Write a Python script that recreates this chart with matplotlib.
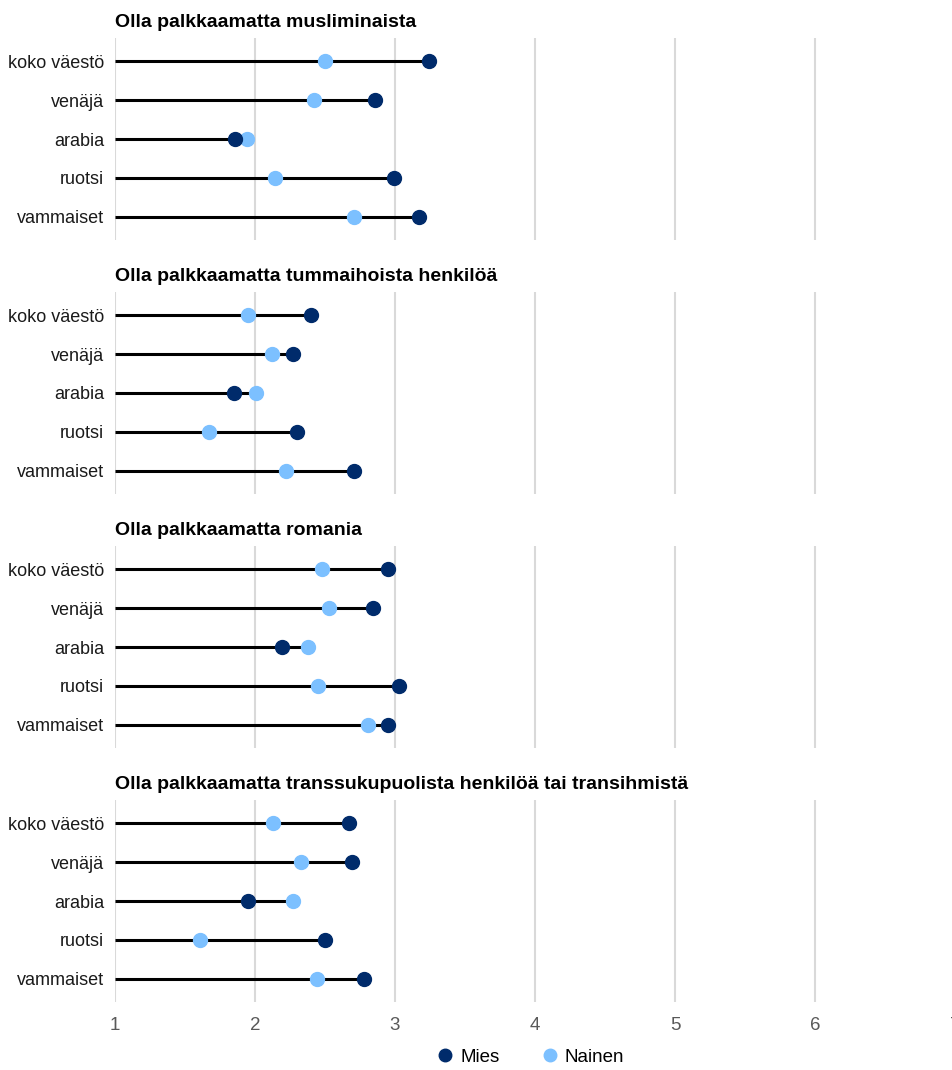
import matplotlib
matplotlib.use("Agg")
import matplotlib.pyplot as plt
from matplotlib.lines import Line2D

plt.rcParams['font.family'] = ['Liberation Sans Narrow', 'Liberation Sans', 'DejaVu Sans']

DARK = "#002B6B"
LIGHT = "#7CC0FF"
GRID = "#D9D9D9"

categories = ["koko väestö", "venäjä", "arabia", "ruotsi", "vammaiset"]

titles = [
    "Olla palkkaamatta musliminaista",
    "Olla palkkaamatta tummaihoista henkilöä",
    "Olla palkkaamatta romania",
    "Olla palkkaamatta transsukupuolista henkilöä tai transihmistä",
]

# Mies (men) values per panel
mies_musliminainen = [3.24, 2.86, 1.86, 2.99, 3.17]
mies_tummaihoinen = [2.40, 2.27, 1.85, 2.30, 2.71]
mies_romani = [2.95, 2.84, 2.19, 3.03, 2.95]
mies_trans = [2.67, 2.69, 1.95, 2.50, 2.78]

# Nainen (women) values per panel
nainen_musliminainen = [2.50, 2.42, 1.94, 2.14, 2.71]
nainen_tummaihoinen = [1.95, 2.12, 2.01, 1.67, 2.22]
nainen_romani = [2.48, 2.53, 2.38, 2.45, 2.81]
nainen_trans = [2.13, 2.33, 2.27, 1.61, 2.44]

mies = [mies_musliminainen, mies_tummaihoinen, mies_romani, mies_trans]
nainen = [nainen_musliminainen, nainen_tummaihoinen, nainen_romani, nainen_trans]

xticks = [1, 2, 3, 4, 5, 6, 7]


def arrange_axes(ax, show_x):
    for side in ['top', 'right', 'left', 'bottom']:
        ax.spines[side].set_visible(False)
    ax.set_xlim(1, 7)
    ax.set_ylim(len(categories) - 1 + 0.59, -0.59)
    ax.set_xticks(xticks)
    ax.grid(axis="x", color=GRID, linewidth=1.5)
    ax.set_axisbelow(True)
    ax.set_yticks(range(len(categories)))
    ax.set_yticklabels(categories, fontsize=13, color="#1a1a1a")
    ax.tick_params(axis='y', length=0, pad=8)
    ax.tick_params(axis='x', length=0, pad=11, labelsize=13.5, labelcolor="#595959")
    if not show_x:
        ax.set_xticklabels([])


fig = plt.figure(figsize=(9.52, 10.7), dpi=100)
W, H = 952.0, 1070.0

for i in range(4):
    top = 38 + 254 * i
    ax = fig.add_axes([115 / W, 1 - (top + 202) / H, 840 / W, 202 / H])
    ax.patch.set_alpha(0)
    ypos = range(len(categories))
    ends = [max(m, n) for m, n in zip(mies[i], nainen[i])]
    ax.hlines(ypos, 1, ends, color="black", linewidth=2.2, zorder=2)
    ax.plot(mies[i], ypos, 'o', color=DARK, markersize=10, zorder=4, clip_on=False)
    ax.plot(nainen[i], ypos, 'o', color=LIGHT, markersize=10, zorder=3, clip_on=False)
    arrange_axes(ax, show_x=(i == 3))
    ax.set_title(titles[i], loc='left', fontweight='bold', fontsize=14, pad=8)

handles = [
    Line2D([], [], marker='o', linestyle='none', color=DARK, markersize=9, label="Mies"),
    Line2D([], [], marker='o', linestyle='none', color=LIGHT, markersize=9, label="Nainen"),
]
fig.legend(handles=handles, loc='center', bbox_to_anchor=(530 / W, 1 - 1057 / H), ncol=2,
           frameon=False, fontsize=13.5, handletextpad=0.3, columnspacing=2.2,
           handlelength=1.0)

plt.savefig("out.png", dpi=100)
